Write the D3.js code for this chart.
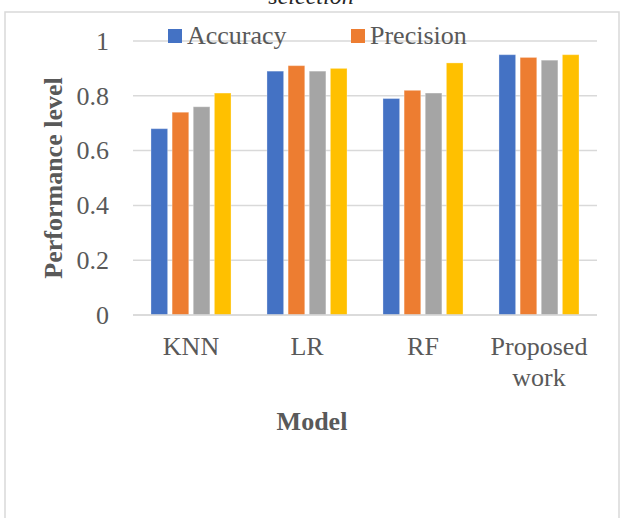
<!DOCTYPE html>
<html>
<head>
<meta charset="utf-8">
<script src="https://cdn.jsdelivr.net/npm/d3@7"></script>
<style>
  html, body { margin: 0; padding: 0; background: #fff; }
  svg { display: block; }
  text { font-family: "Liberation Serif", "Times New Roman", serif; }
</style>
</head>
<body>
<svg id="chart" width="620" height="518"></svg>
<script>
// Model comparison data
const categories = ["KNN", "LR", "RF", "Proposed work"];
const seriesNames = ["Accuracy", "Precision", "Recall", "F1-score"];
const seriesColors = ["#4472C4", "#ED7D31", "#A5A5A5", "#FFC000"];
const accuracy  = [0.68, 0.89, 0.79, 0.95];
const precision = [0.74, 0.91, 0.82, 0.94];
const recall    = [0.76, 0.89, 0.81, 0.93];
const f1score   = [0.81, 0.90, 0.92, 0.95];
const yTicks = [0, 0.2, 0.4, 0.6, 0.8, 1];
const legendShown = ["Accuracy", "Precision"];

const seriesValues = [accuracy, precision, recall, f1score];

const svg = d3.select("#chart");
const textColor = "#595959";
const gridColor = "#d9d9d9";

const plot = { left: 133, right: 597, top: 41, bottom: 315 };

// chart frame
svg.append("rect")
  .attr("x", 5).attr("y", 12)
  .attr("width", 614).attr("height", 520)
  .attr("fill", "none")
  .attr("stroke", gridColor)
  .attr("stroke-width", 1.5);

// title (sits partly above the frame)
svg.append("text")
  .attr("x", 311).attr("y", 4)
  .attr("text-anchor", "middle")
  .attr("font-style", "italic")
  .attr("font-size", 24)
  .attr("fill", "#262626")
  .text("selection");

const y = d3.scaleLinear().domain([0, 1]).range([plot.bottom, plot.top]);
const x0 = d3.scaleBand().domain(categories)
  .range([plot.left, plot.right])
  .paddingInner(0.31).paddingOuter(0.155);
const x1 = d3.scaleBand().domain(seriesNames)
  .range([0, x0.bandwidth()])
  .paddingInner(0.2125).paddingOuter(0);

// gridlines
svg.append("g")
  .selectAll("line")
  .data(yTicks)
  .join("line")
  .attr("x1", plot.left).attr("x2", plot.right)
  .attr("y1", d => y(d)).attr("y2", d => y(d))
  .attr("stroke", gridColor)
  .attr("stroke-width", 1.5);

// y axis labels
const yAxis = svg.append("g")
  .attr("transform", `translate(${plot.left},0)`)
  .call(d3.axisLeft(y).tickValues(yTicks).tickSize(0).tickPadding(24)
    .tickFormat(d => d3.format("~g")(d)));
yAxis.select(".domain").remove();
yAxis.selectAll("text")
  .attr("font-family", "Liberation Serif, Times New Roman, serif")
  .attr("font-size", 26)
  .attr("fill", textColor);

// bars
const groups = svg.append("g")
  .selectAll("g")
  .data(categories)
  .join("g")
  .attr("transform", d => `translate(${x0(d)},0)`);

groups.selectAll("rect")
  .data((c, ci) => seriesNames.map((s, si) => ({ s, si, v: seriesValues[si][ci] })))
  .join("rect")
  .attr("x", d => x1(d.s))
  .attr("width", x1.bandwidth())
  .attr("y", d => y(d.v))
  .attr("height", d => y(0) - y(d.v))
  .attr("fill", d => seriesColors[d.si])
  .attr("stroke", "#ffffff")
  .attr("stroke-opacity", 0.3)
  .attr("stroke-width", 1);

// x axis line
svg.append("line")
  .attr("x1", plot.left).attr("x2", plot.right)
  .attr("y1", y(0)).attr("y2", y(0))
  .attr("stroke", gridColor)
  .attr("stroke-width", 1.5);

// category labels
const xLabels = svg.append("g")
  .selectAll("text")
  .data(categories)
  .join("text")
  .attr("text-anchor", "middle")
  .attr("font-size", 26)
  .attr("fill", textColor)
  .attr("x", d => x0(d) + x0.bandwidth() / 2)
  .attr("y", 355);
xLabels.each(function (d) {
  const words = d === "Proposed work" ? ["Proposed", "work"] : [d];
  const t = d3.select(this);
  words.forEach((w, i) => {
    t.append("tspan")
      .attr("x", x0(d) + x0.bandwidth() / 2)
      .attr("dy", i === 0 ? 0 : 30.5)
      .text(w);
  });
});

// axis titles
svg.append("text")
  .attr("x", 312).attr("y", 430)
  .attr("text-anchor", "middle")
  .attr("font-size", 26)
  .attr("font-weight", "bold")
  .attr("fill", textColor)
  .text("Model");

svg.append("text")
  .attr("transform", `translate(62,${(plot.top + plot.bottom) / 2}) rotate(-90)`)
  .attr("text-anchor", "middle")
  .attr("font-size", 26)
  .attr("font-weight", "bold")
  .attr("fill", textColor)
  .text("Performance level");

// legend
const legendX = [168, 351];
const legend = svg.append("g")
  .selectAll("g")
  .data(legendShown)
  .join("g")
  .attr("transform", (d, i) => `translate(${legendX[i]},29)`);
legend.append("rect")
  .attr("width", 14).attr("height", 14)
  .attr("fill", d => seriesColors[seriesNames.indexOf(d)]);
legend.append("text")
  .attr("x", 19).attr("y", 15)
  .attr("font-size", 26)
  .attr("fill", textColor)
  .text(d => d);
</script>
</body>
</html>
